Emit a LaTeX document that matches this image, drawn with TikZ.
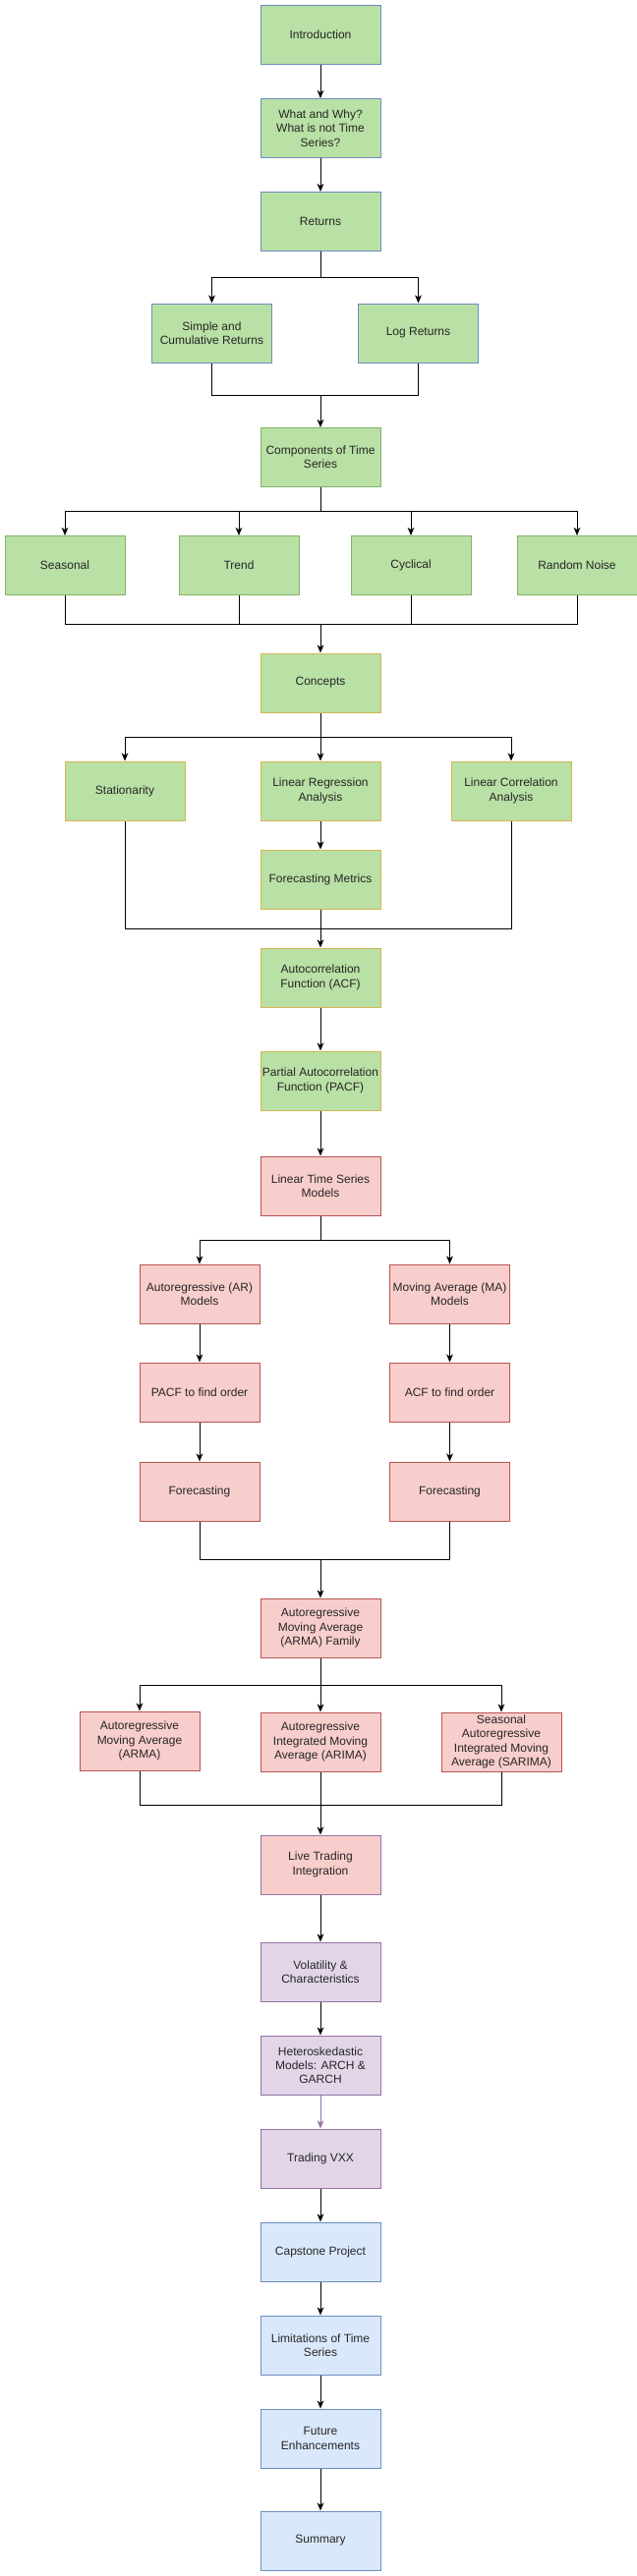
\documentclass[tikz,border=0pt]{standalone}
\usepackage{fontspec}
\setmainfont{Liberation Sans}
\usetikzlibrary{arrows.meta,positioning}
\definecolor{leafFill}{HTML}{B9E0A5}
\definecolor{leafLine}{HTML}{82B366}
\definecolor{skyFill}{HTML}{DAE8FC}
\definecolor{skyLine}{HTML}{6C8EBF}
\definecolor{sandLine}{HTML}{D6B656}
\definecolor{roseFill}{HTML}{F8CECC}
\definecolor{roseLine}{HTML}{B85450}
\definecolor{plumFill}{HTML}{E1D5E7}
\definecolor{plumLine}{HTML}{9673A6}

\begin{document}
\begin{tikzpicture}[
    x=0.75pt, y=-0.75pt,
    font=\fontsize{9}{10.7}\selectfont,
    topic/.style={
        rectangle, line width=0.75pt, minimum width=91.5pt, minimum height=45pt,
        inner sep=1pt, align=center, text=black!85
    },
    grnSky/.style={topic, fill=leafFill, draw=skyLine},
    grnLeaf/.style={topic, fill=leafFill, draw=leafLine},
    grnSand/.style={topic, fill=leafFill, draw=sandLine},
    rose/.style={topic, fill=roseFill, draw=roseLine},
    rosePlum/.style={topic, fill=roseFill, draw=plumLine},
    plum/.style={topic, fill=plumFill, draw=plumLine},
    sky/.style={topic, fill=skyFill, draw=skyLine},
    link/.style={line width=0.75pt, draw=black},
    arr/.style={link, -{Stealth[length=6pt, width=5pt, inset=1.6pt]}}
]
    \useasboundingbox [fill=white] (0,0) rectangle (647,2622);

    % Opening: introduction and returns
    \node [grnSky] (intro) at (326, 35.5) {Introduction};
    \node [grnSky] (what) at (326, 130.5) {What and Why?\\What is not Time\\Series?};
    \node [grnSky] (ret) at (326, 225.5) {Returns};
    \node [grnSky] (simple) at (215.5, 339) {Simple and\\Cumulative Returns};
    \node [grnSky] (logret) at (425.5, 339) {Log Returns};

    \draw [arr] (intro.south) -- (what.north);
    \draw [arr] (what.south) -- (ret.north);
    \coordinate (jret) at (326, 282);
    \draw [arr] (ret.south) -- (jret) -| (simple.north);
    \draw [arr] (jret) -| (logret.north);

    % Components of time series
    \node [grnLeaf] (comp) at (326, 465.5) {Components of Time\\Series};
    \coordinate (mret) at (326, 402);
    \draw [link] (simple.south) |- (mret);
    \draw [link] (logret.south) |- (mret);
    \draw [arr] (mret) -- (comp.north);

    \node [grnLeaf] (seas) at (66, 575.5) {Seasonal};
    \node [grnLeaf] (trend) at (243, 575.5) {Trend};
    \node [grnLeaf] (cycl) at (418, 575.5) {Cyclical};
    \node [grnLeaf] (noise) at (587, 575.5) {Random Noise};

    \coordinate (jcomp) at (326, 520);
    \draw [link] (comp.south) -- (jcomp);
    \foreach \part in {seas, trend, cycl, noise}
        \draw [arr] (jcomp) -| (\part.north);

    % Concepts
    \node [grnSand] (conc) at (326, 695) {Concepts};
    \coordinate (mcomp) at (326, 635);
    \foreach \part in {seas, trend, cycl, noise}
        \draw [link] (\part.south) |- (mcomp);
    \draw [arr] (mcomp) -- (conc.north);

    \node [grnSand] (stat) at (127, 805) {Stationarity};
    \node [grnSand] (linreg) at (326, 805) {Linear Regression\\Analysis};
    \node [grnSand] (lincorr) at (520, 805) {Linear Correlation\\Analysis};
    \node [grnSand] (fmet) at (326, 895) {Forecasting Metrics};

    \coordinate (jconc) at (326, 750);
    \draw [link] (conc.south) -- (jconc);
    \foreach \part in {stat, linreg, lincorr}
        \draw [arr] (jconc) -| (\part.north);
    \draw [arr] (linreg.south) -- (fmet.north);

    % ACF and PACF
    \node [grnSand] (acf) at (326, 995) {Autocorrelation\\Function (ACF)};
    \node [grnSand] (pacf) at (326, 1100) {Partial Autocorrelation\\Function (PACF)};
    \coordinate (mconc) at (326, 945);
    \draw [link] (stat.south) |- (mconc);
    \draw [link] (lincorr.south) |- (mconc);
    \draw [link] (fmet.south) -- (mconc);
    \draw [arr] (mconc) -- (acf.north);
    \draw [arr] (acf.south) -- (pacf.north);

    % Linear time series models
    \node [rose] (lts) at (326, 1207) {Linear Time Series\\Models};
    \draw [arr] (pacf.south) -- (lts.north);

    \node [rose] (ar) at (203, 1317) {Autoregressive (AR)\\Models};
    \node [rose] (ma) at (457.5, 1317) {Moving Average (MA)\\Models};
    \node [rose] (arord) at (203, 1417) {PACF to find order};
    \node [rose] (maord) at (457.5, 1417) {ACF to find order};
    \node [rose] (arfc) at (203, 1518) {Forecasting};
    \node [rose] (mafc) at (457.5, 1518) {Forecasting};

    \coordinate (jlts) at (326, 1262);
    \draw [arr] (lts.south) -- (jlts) -| (ar.north);
    \draw [arr] (jlts) -| (ma.north);
    \draw [arr] (ar.south) -- (arord.north);
    \draw [arr] (ma.south) -- (maord.north);
    \draw [arr] (arord.south) -- (arfc.north);
    \draw [arr] (maord.south) -- (mafc.north);

    % ARMA family
    \node [rose] (fam) at (326, 1657) {Autoregressive\\Moving Average\\(ARMA) Family};
    \coordinate (mfc) at (326, 1587);
    \draw [link] (arfc.south) |- (mfc);
    \draw [link] (mafc.south) |- (mfc);
    \draw [arr] (mfc) -- (fam.north);

    \node [rose] (arma) at (142, 1772) {Autoregressive\\Moving Average\\(ARMA)};
    \node [rose] (arima) at (326, 1773) {Autoregressive\\Integrated Moving\\Average (ARIMA)};
    \node [rose] (sarima) at (510, 1773) {Seasonal\\Autoregressive\\Integrated Moving\\Average (SARIMA)};

    \coordinate (jfam) at (326, 1715);
    \draw [link] (fam.south) -- (jfam);
    \foreach \model in {arma, arima, sarima}
        \draw [arr] (jfam) -| (\model.north);

    % Live trading and volatility
    \node [rosePlum] (live) at (326, 1898) {Live Trading\\Integration};
    \coordinate (mfam) at (326, 1837);
    \draw [link] (arma.south) |- (mfam);
    \draw [link] (sarima.south) |- (mfam);
    \draw [link] (arima.south) -- (mfam);
    \draw [arr] (mfam) -- (live.north);

    \node [plum] (vol) at (326, 2007) {Volatility \&\\Characteristics};
    \node [plum] (hetero) at (326, 2102) {Heteroskedastic\\Models: ARCH \&\\GARCH};
    \node [plum] (vxx) at (326, 2197) {Trading VXX};
    \draw [arr] (live.south) -- (vol.north);
    \draw [arr] (vol.south) -- (hetero.north);
    \draw [arr, draw=plumLine, fill=plumLine] (hetero.south) -- (vxx.north);

    % Closing: capstone to summary
    \node [sky] (cap) at (326, 2292) {Capstone Project};
    \node [sky] (limit) at (326, 2387) {Limitations of Time\\Series};
    \node [sky] (future) at (326, 2482) {Future\\Enhancements};
    \node [sky] (summ) at (326, 2586) {Summary};
    \draw [arr] (vxx.south) -- (cap.north);
    \draw [arr] (cap.south) -- (limit.north);
    \draw [arr] (limit.south) -- (future.north);
    \draw [arr] (future.south) -- (summ.north);

\end{tikzpicture}
\end{document}
